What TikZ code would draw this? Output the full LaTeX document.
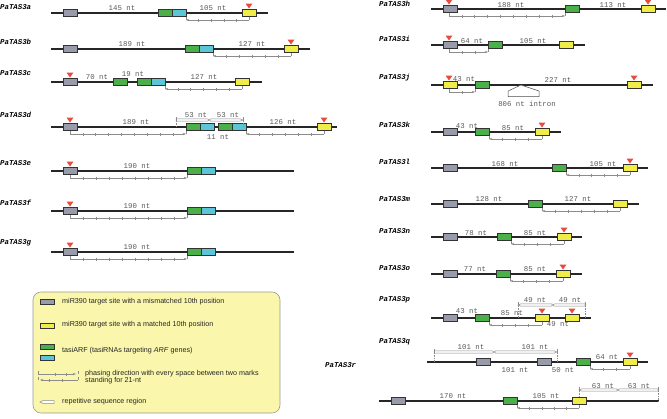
\documentclass[tikz,border=0pt]{standalone}
\usepackage{fontspec}
\setmainfont{Liberation Sans}
\newfontfamily\monof{Liberation Mono}
\usetikzlibrary{arrows.meta}
\definecolor{cgray}{HTML}{989CAA}
\definecolor{cgreen}{HTML}{4CB04A}
\definecolor{ccyan}{HTML}{5CC6D8}
\definecolor{cyel}{HTML}{F0EC48}
\definecolor{cred}{HTML}{E84B3C}
\definecolor{legfill}{HTML}{FAF6AC}
\tikzset{
  bbl/.style={line width=1.2bp, draw=black!85},
  site/.style={line width=0.8bp, draw=black!80},
  phl/.style={line width=0.6bp, draw=black!45},
  rep/.style={line width=0.5bp, draw=black!45, fill=white},
  ntl/.style={font=\monof\fontsize{7.4}{8}\selectfont, text=black!65, inner sep=0pt},
  lab/.style={font=\monof\bfseries\itshape\fontsize{7.4}{8}\selectfont, inner sep=0pt, anchor=west},
  leg/.style={font=\fontsize{7.2}{8}\selectfont, inner sep=0pt, anchor=west, text=black!85},
}
\newcommand\bbone[3]{\draw[bbl] (#1,#3) -- (#2,#3);}
\newcommand\stbox[3]{\draw[site,fill=#1] (#2,{#3-3.5}) rectangle ({#2+14},{#3+3.5});}
\newcommand\redtri[2]{\fill[cred] ({#1-3.5},{#2-9.5}) -- ({#1+3.5},{#2-9.5}) -- (#1,{#2-4.5}) -- cycle;}
\newcommand\ntlab[3]{\node[ntl] at (#1,#2) {#3};}
\newcommand\phz[4]{%
  \draw[phl] (#1,{#3+3.5}) -- (#1,{#3+7});
  \draw[phl,-{Stealth[length=3.2bp,width=2.4bp]}] (#1,{#3+7}) -- (#2,{#3+7});
  \draw[phl] (#2,{#3+3.5}) -- (#2,{#3+7});
  \foreach \k in {1,...,#4} {\pgfmathsetmacro\tx{#1+(#2-#1)*\k/(#4+1)}
    \draw[phl] (\tx,{#3+5.5}) -- (\tx,{#3+8.5});}
}
\newcommand\repR[3]{\draw[rep] (#1,{#3-1.2}) -- ({#2-3},{#3-1.2}) -- (#2,#3) -- ({#2-3},{#3+1.2}) -- (#1,{#3+1.2}) -- cycle;}
\newcommand\repL[3]{\draw[rep] (#2,{#3-1.2}) -- ({#1+3},{#3-1.2}) -- (#1,#3) -- ({#1+3},{#3+1.2}) -- (#2,{#3+1.2}) -- cycle;}
\newcommand\repend[3]{\draw[phl] (#1,{#2-3}) -- (#1,{#2+1.2}); \draw[phl,densely dotted] (#1,{#2+1.2}) -- (#1,#3);}
\begin{document}
\begin{tikzpicture}[x=1bp,y=-1bp]
\useasboundingbox (0,0) rectangle (667,418);
% ---------- PaTAS3a
\node[lab] (la) at (0,7) {PaTAS3a};
\bbone{51}{268}{13}
\stbox{cgray}{63}{13}\stbox{cgreen}{158}{13}\stbox{ccyan}{172}{13}\stbox{cyel}{242}{13}
\redtri{249}{13}
\ntlab{122}{8}{145 nt}\ntlab{213}{8}{105 nt}
\phz{249}{186}{13}{4}
% ---------- PaTAS3b
\node[lab] (lb) at (0,42) {PaTAS3b};
\bbone{51}{310}{49}
\stbox{cgray}{63}{49}\stbox{cgreen}{185}{49}\stbox{ccyan}{199}{49}\stbox{cyel}{284}{49}
\redtri{291}{49}
\ntlab{132}{44}{189 nt}\ntlab{252}{44}{127 nt}
\phz{291}{213}{49}{5}
% ---------- PaTAS3c
\node[lab] (lc) at (0,73) {PaTAS3c};
\bbone{51}{262}{82}
\stbox{cgray}{63}{82}\stbox{cgreen}{113}{82}\stbox{cgreen}{137}{82}\stbox{ccyan}{151}{82}\stbox{cyel}{235}{82}
\redtri{70}{82}
\ntlab{97}{77}{70 nt}\ntlab{133}{74}{19 nt}\ntlab{204}{77}{127 nt}
\phz{242}{165}{82}{5}
% ---------- PaTAS3d
\node[lab] (ld) at (0,115) {PaTAS3d};
\bbone{51}{337}{127}
\stbox{cgray}{63}{127}\stbox{cgreen}{186}{127}\stbox{ccyan}{200}{127}\stbox{cgreen}{218}{127}\stbox{ccyan}{232}{127}\stbox{cyel}{317}{127}
\redtri{70}{127}\redtri{324}{127}
\ntlab{136}{122}{189 nt}\ntlab{283}{122}{126 nt}\ntlab{218}{137}{11 nt}
\ntlab{196}{115}{53 nt}\ntlab{228}{115}{53 nt}
\repR{176}{210}{120}\repR{210}{243}{120}
\repend{176}{120}{127}\repend{243}{120}{127}
\phz{70}{186}{127}{8}
\phz{324}{246}{127}{5}
% ---------- PaTAS3e
\node[lab] (le) at (0,163) {PaTAS3e};
\bbone{51}{294}{171}
\stbox{cgray}{63}{171}\stbox{cgreen}{187}{171}\stbox{ccyan}{201}{171}
\redtri{70}{171}
\ntlab{137}{166}{190 nt}
\phz{70}{187}{171}{8}
% ---------- PaTAS3f
\node[lab] (lf) at (0,203) {PaTAS3f};
\bbone{51}{294}{211}
\stbox{cgray}{63}{211}\stbox{cgreen}{187}{211}\stbox{ccyan}{201}{211}
\redtri{70}{211}
\ntlab{137}{206}{190 nt}
\phz{70}{187}{211}{8}
% ---------- PaTAS3g
\node[lab] (lg) at (0,243) {PaTAS3g};
\bbone{51}{294}{252}
\stbox{cgray}{63}{252}\stbox{cgreen}{187}{252}\stbox{ccyan}{201}{252}
\redtri{70}{252}
\ntlab{137}{247}{190 nt}
\phz{70}{187}{252}{8}
% ---------- Legend
\draw[draw=black!40, fill=legfill, line width=0.6bp, rounded corners=8bp] (33,292) rectangle (280,413);
\draw[site,fill=cgray] (40,299.5) rectangle (54,304.5);
\node[leg] (t1) at (62,302) {miR390 target site with a mismatched 10th position};
\draw[site,fill=cyel] (40,323) rectangle (54,328);
\node[leg] (t2) at (62,325) {miR390 target site with a matched 10th position};
\draw[site,fill=cgreen] (40,344) rectangle (54,349.5);
\draw[site,fill=ccyan] (40,355) rectangle (54,360.5);
\node[leg] (t3) at (62,351) {tasiARF (tasiRNAs targeting \textit{ARF} genes)};
\draw[phl] (38,371) -- (38,374);
\draw[phl,-{Stealth[length=3.2bp,width=2.4bp]}] (38,374) -- (76,374);
\draw[phl] (78,371) -- (78,374);
\draw[phl] (55,372.5) -- (55,375.5); \draw[phl] (66,372.5) -- (66,375.5);
\draw[phl] (78,377) -- (78,380);
\draw[phl,-{Stealth[length=3.2bp,width=2.4bp]}] (78,380) -- (40,380);
\draw[phl] (38,377) -- (38,380);
\draw[phl] (49,378.5) -- (49,381.5); \draw[phl] (62,378.5) -- (62,381.5);
\node[leg] (t4) at (85,373.5) {phasing direction with every space between two marks};
\node[leg] (t5) at (85,380.5) {standing for 21-nt};
\draw[rep] (54,400.5) -- (43,400.5) -- (40,402) -- (43,403.5) -- (54,403.5) -- cycle;
\node[leg] (t6) at (62,402) {repetitive sequence region};
% ---------- PaTAS3h
\node[lab] (lh) at (379,4) {PaTAS3h};
\bbone{431}{666}{9}
\stbox{cgray}{443}{9}\stbox{cgreen}{565}{9}\stbox{cyel}{641}{9}
\redtri{449}{9}\redtri{648}{9}
\ntlab{511}{5}{188 nt}\ntlab{613}{5}{113 nt}
\phz{449}{565}{9}{8}
% ---------- PaTAS3i
\node[lab] (li) at (379,39) {PaTAS3i};
\bbone{431}{585}{45}
\stbox{cgray}{443}{45}\stbox{cgreen}{488}{45}\stbox{cyel}{559}{45}
\redtri{449}{45}
\ntlab{472}{41}{64 nt}\ntlab{533}{41}{105 nt}
\phz{449}{488}{45}{2}
% ---------- PaTAS3j
\node[lab] (lj) at (379,78) {PaTAS3j};
\bbone{431}{653}{85}
\stbox{cyel}{443}{85}\stbox{cgreen}{475}{85}\stbox{cyel}{627}{85}
\redtri{449}{85}\redtri{634}{85}
\ntlab{464}{79}{43 nt}\ntlab{558}{80}{227 nt}
\draw[line width=0.5bp, draw=black!70, fill=white] (521,85) -- (539,91) -- (539,96.5) -- (508,96.5) -- (508,91) -- cycle;
\ntlab{527}{103.5}{806 nt intron}
\phz{449}{475}{85}{1}
% ---------- PaTAS3k
\node[lab] (lk) at (379,125) {PaTAS3k};
\bbone{431}{561}{132}
\stbox{cgray}{443}{132}\stbox{cgreen}{475}{132}\stbox{cyel}{535}{132}
\redtri{542}{132}
\ntlab{467}{126}{43 nt}\ntlab{513}{128}{85 nt}
\phz{542}{489}{132}{3}
% ---------- PaTAS3l
\node[lab] (ll) at (379,162) {PaTAS3l};
\bbone{431}{648}{168}
\stbox{cgray}{443}{168}\stbox{cgreen}{552}{168}\stbox{cyel}{623}{168}
\redtri{630}{168}
\ntlab{505}{164}{168 nt}\ntlab{603}{164}{105 nt}
\phz{630}{566}{168}{4}
% ---------- PaTAS3m
\node[lab] (lm) at (379,199) {PaTAS3m};
\bbone{431}{639}{204}
\stbox{cgray}{443}{204}\stbox{cgreen}{528}{204}\stbox{cyel}{613}{204}
\ntlab{489}{199}{128 nt}\ntlab{578}{199}{127 nt}
\phz{620}{542}{204}{5}
% ---------- PaTAS3n
\node[lab] (ln) at (379,231) {PaTAS3n};
\bbone{431}{582}{237}
\stbox{cgray}{443}{237}\stbox{cgreen}{497}{237}\stbox{cyel}{557}{237}
\redtri{564}{237}
\ntlab{476}{233}{78 nt}\ntlab{535}{233}{85 nt}
\phz{564}{511}{237}{3}
% ---------- PaTAS3o
\node[lab] (lo) at (379,268) {PaTAS3o};
\bbone{431}{582}{274}
\stbox{cgray}{443}{274}\stbox{cgreen}{496}{274}\stbox{cyel}{556}{274}
\redtri{563}{274}
\ntlab{475}{269}{77 nt}\ntlab{535}{269}{85 nt}
\phz{563}{510}{274}{3}
% ---------- PaTAS3p
\node[lab] (lp) at (379,300) {PaTAS3p};
\bbone{431}{591}{318}
\stbox{cgray}{443}{318}\stbox{cgreen}{475}{318}\stbox{cyel}{535}{318}\stbox{cyel}{565}{318}
\redtri{542}{318}\redtri{572}{318}
\ntlab{467}{311}{43 nt}\ntlab{512}{313.5}{85 nt}\ntlab{558}{324}{49 nt}
\ntlab{535}{300}{49 nt}\ntlab{570}{300}{49 nt}
\repL{518}{552}{305}\repL{552}{585}{305}
\repend{518}{305}{318}\repend{585}{305}{318}
\phz{542}{489}{318}{3}
% ---------- PaTAS3q
\node[lab] (lq) at (379,342) {PaTAS3q};
\bbone{427}{648}{362}
\stbox{cgray}{476}{362}\stbox{cgray}{537}{362}\stbox{cgreen}{576}{362}\stbox{cyel}{623}{362}
\redtri{630}{362}
\ntlab{515}{370}{101 nt}\ntlab{563}{370}{50 nt}\ntlab{607}{357}{64 nt}
\ntlab{471}{347}{101 nt}\ntlab{535}{347}{101 nt}
\repR{434}{495}{352}\repR{495}{557}{352}
\repend{434}{352}{362}\repend{557}{352}{362}
\phz{630}{590}{362}{2}
% ---------- PaTAS3r
\node[lab] (lr) at (325,365) {PaTAS3r};
\bbone{379}{659}{401}
\stbox{cgray}{391}{401}\stbox{cgreen}{503}{401}\stbox{cyel}{572}{401}
\ntlab{453}{396}{170 nt}\ntlab{546}{396}{105 nt}
\ntlab{603}{386}{63 nt}\ntlab{639}{386}{63 nt}
\repL{579}{617}{390}\repL{617}{658}{390}
\repend{579}{390}{397.5}\repend{658}{390}{401}
\phz{579}{517}{401}{4}
\end{tikzpicture}
\end{document}
